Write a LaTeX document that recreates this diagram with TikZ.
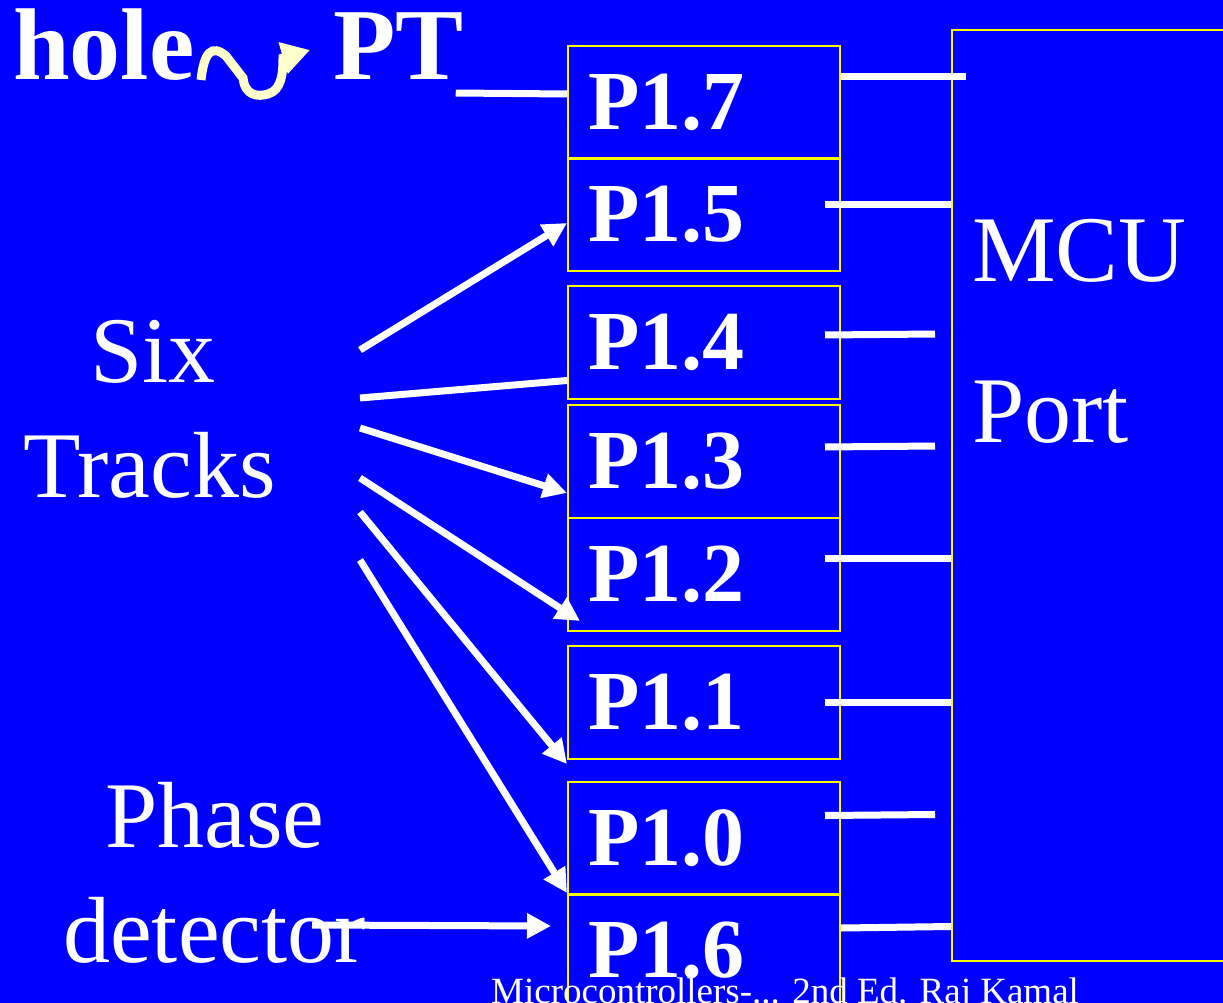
\documentclass[tikz,border=0pt]{standalone}
\usepackage{fontspec}
\setmainfont{Liberation Serif}
\usetikzlibrary{arrows.meta,positioning,calc}
\definecolor{slideblue}{HTML}{0000FF}
\definecolor{pinyellow}{HTML}{FFFF00}
\definecolor{paleyellow}{HTML}{FFFFCC}
\newcommand{\fsz}[1]{\fontsize{#1}{#1}\selectfont}

\begin{document}
\begin{tikzpicture}[x=1pt, y=-1pt, >={Triangle[length=24pt,width=24pt]},
 pin/.style={draw=pinyellow, line width=2pt, anchor=north west, minimum width=272pt,
  minimum height=113pt, text width=232pt, inner xsep=20pt, inner ysep=0pt, align=left,
  text=white, font=\bfseries\fsz{84}},
 lbl/.style={anchor=base west, inner sep=0pt, text=white, font=\fsz{94}},
 wire/.style={draw=white, line width=7pt}]
\useasboundingbox (0,0) rectangle (1223,1003);
\fill[slideblue] (0,0) rectangle (1223,1003);
\clip (0,0) rectangle (1223,1003);

% port 1 pins
\node[pin] (p17) at (567,45)  {P1.7};
\node[pin] (p15) at (567,157) {P1.5};
\node[pin] (p14) at (567,285) {P1.4};
\node[pin] (p13) at (567,404) {P1.3};
\node[pin] (p12) at (567,517) {P1.2};
\node[pin] (p11) at (567,645) {P1.1};
\node[pin] (p10) at (567,781) {P1.0};
\node[pin] (p16) at (567,893) {P1.6};
\node[draw=pinyellow, line width=2pt, anchor=north west, minimum width=300pt,
 minimum height=931pt] (mcu) at (951,29) {};

\node[lbl] (mcutxt) at (972,281) {MCU};
\node[lbl] (porttxt) at (972,442) {Port};
\node[lbl] (six) at (90,382) {Six};
\node[lbl] (tracks) at (23,497) {Tracks};
\node[lbl] (phase) at (105,847) {Phase};
\node[lbl] (detector) at (63,962) {detector};
\node[lbl, font=\bfseries\fsz{102}] (hole) at (13,80) {hole};
\node[lbl, font=\bfseries\fsz{102}] (pt) at (333,80) {PT};
\node[lbl, font=\fsz{37}] (credit) at (491,1003) {Microcontrollers-... 2nd Ed. Raj Kamal};

% wavy pointer from hole to PT
\draw[paleyellow, line width=9pt, -{Triangle[length=28pt,width=31pt]}]
 (201,80) .. controls (204,52) and (212,44) .. (226,56)
 -- (243,78) .. controls (245,96) and (258,97) .. (268,94)
 .. controls (282,90) and (283,72) .. (283,58) -- (310,50);

% tracks to pins
\coordinate (t1) at (360,350);
\coordinate (t2) at (360,398);
\coordinate (t3) at (360,428);
\coordinate (t4) at (360,478);
\coordinate (t5) at (360,512);
\coordinate (t6) at (360,560);
\coordinate (ph) at (312,925);
\draw[wire, ->] (t1) -- ($(p15.west)+(0,8.5)$);
\draw[wire] (t2) -- ($(p14.west)+(0,38)$);
\draw[wire, ->] (t3) -- ($(p13.west)+(0,31.5)$);
\draw[wire, ->] (t4) -- ($(p12.west)+(13,46.5)$);
\draw[wire, ->] (t5) -- ($(p11.south west)+(0,4)$);
\draw[wire, ->] (t6) -- ($(p10.south west)+(0,-3)$);
\draw[wire, ->] (ph) -- ($(p16.west)+(-16,-24.5)$);
\draw[wire] ($(pt.base east)+(-8,13)$) -- ($(p17.west)+(0,-8.5)$);

% pins to MCU
\draw[wire] ($(p17.east)+(0,-25.5)$) -- ($(p17.east -| mcu.west)+(15,-25.5)$);
\draw[wire] ($(p15.east)+(-16,-9.5)$) -- ($(p15.east -| mcu.west)+(0,-9.5)$);
\draw[wire] ($(p14.east)+(-16,-7.5)$) -- ($(p14.east -| mcu.west)+(-16,-8.5)$);
\draw[wire] ($(p13.east)+(-16,-14.5)$) -- ($(p13.east -| mcu.west)+(-16,-15.5)$);
\draw[wire] ($(p12.east)+(-16,-16.5)$) -- ($(p12.east -| mcu.west)+(0,-16.5)$);
\draw[wire] ($(p11.east)+(-16,-0.5)$) -- ($(p11.east -| mcu.west)+(0,-0.5)$);
\draw[wire] ($(p10.east)+(-16,-23)$) -- ($(p10.east -| mcu.west)+(-16,-24)$);
\draw[wire] ($(p16.east)+(0,-22.5)$) -- ($(p16.east -| mcu.west)+(0,-24)$);
\end{tikzpicture}
\end{document}
